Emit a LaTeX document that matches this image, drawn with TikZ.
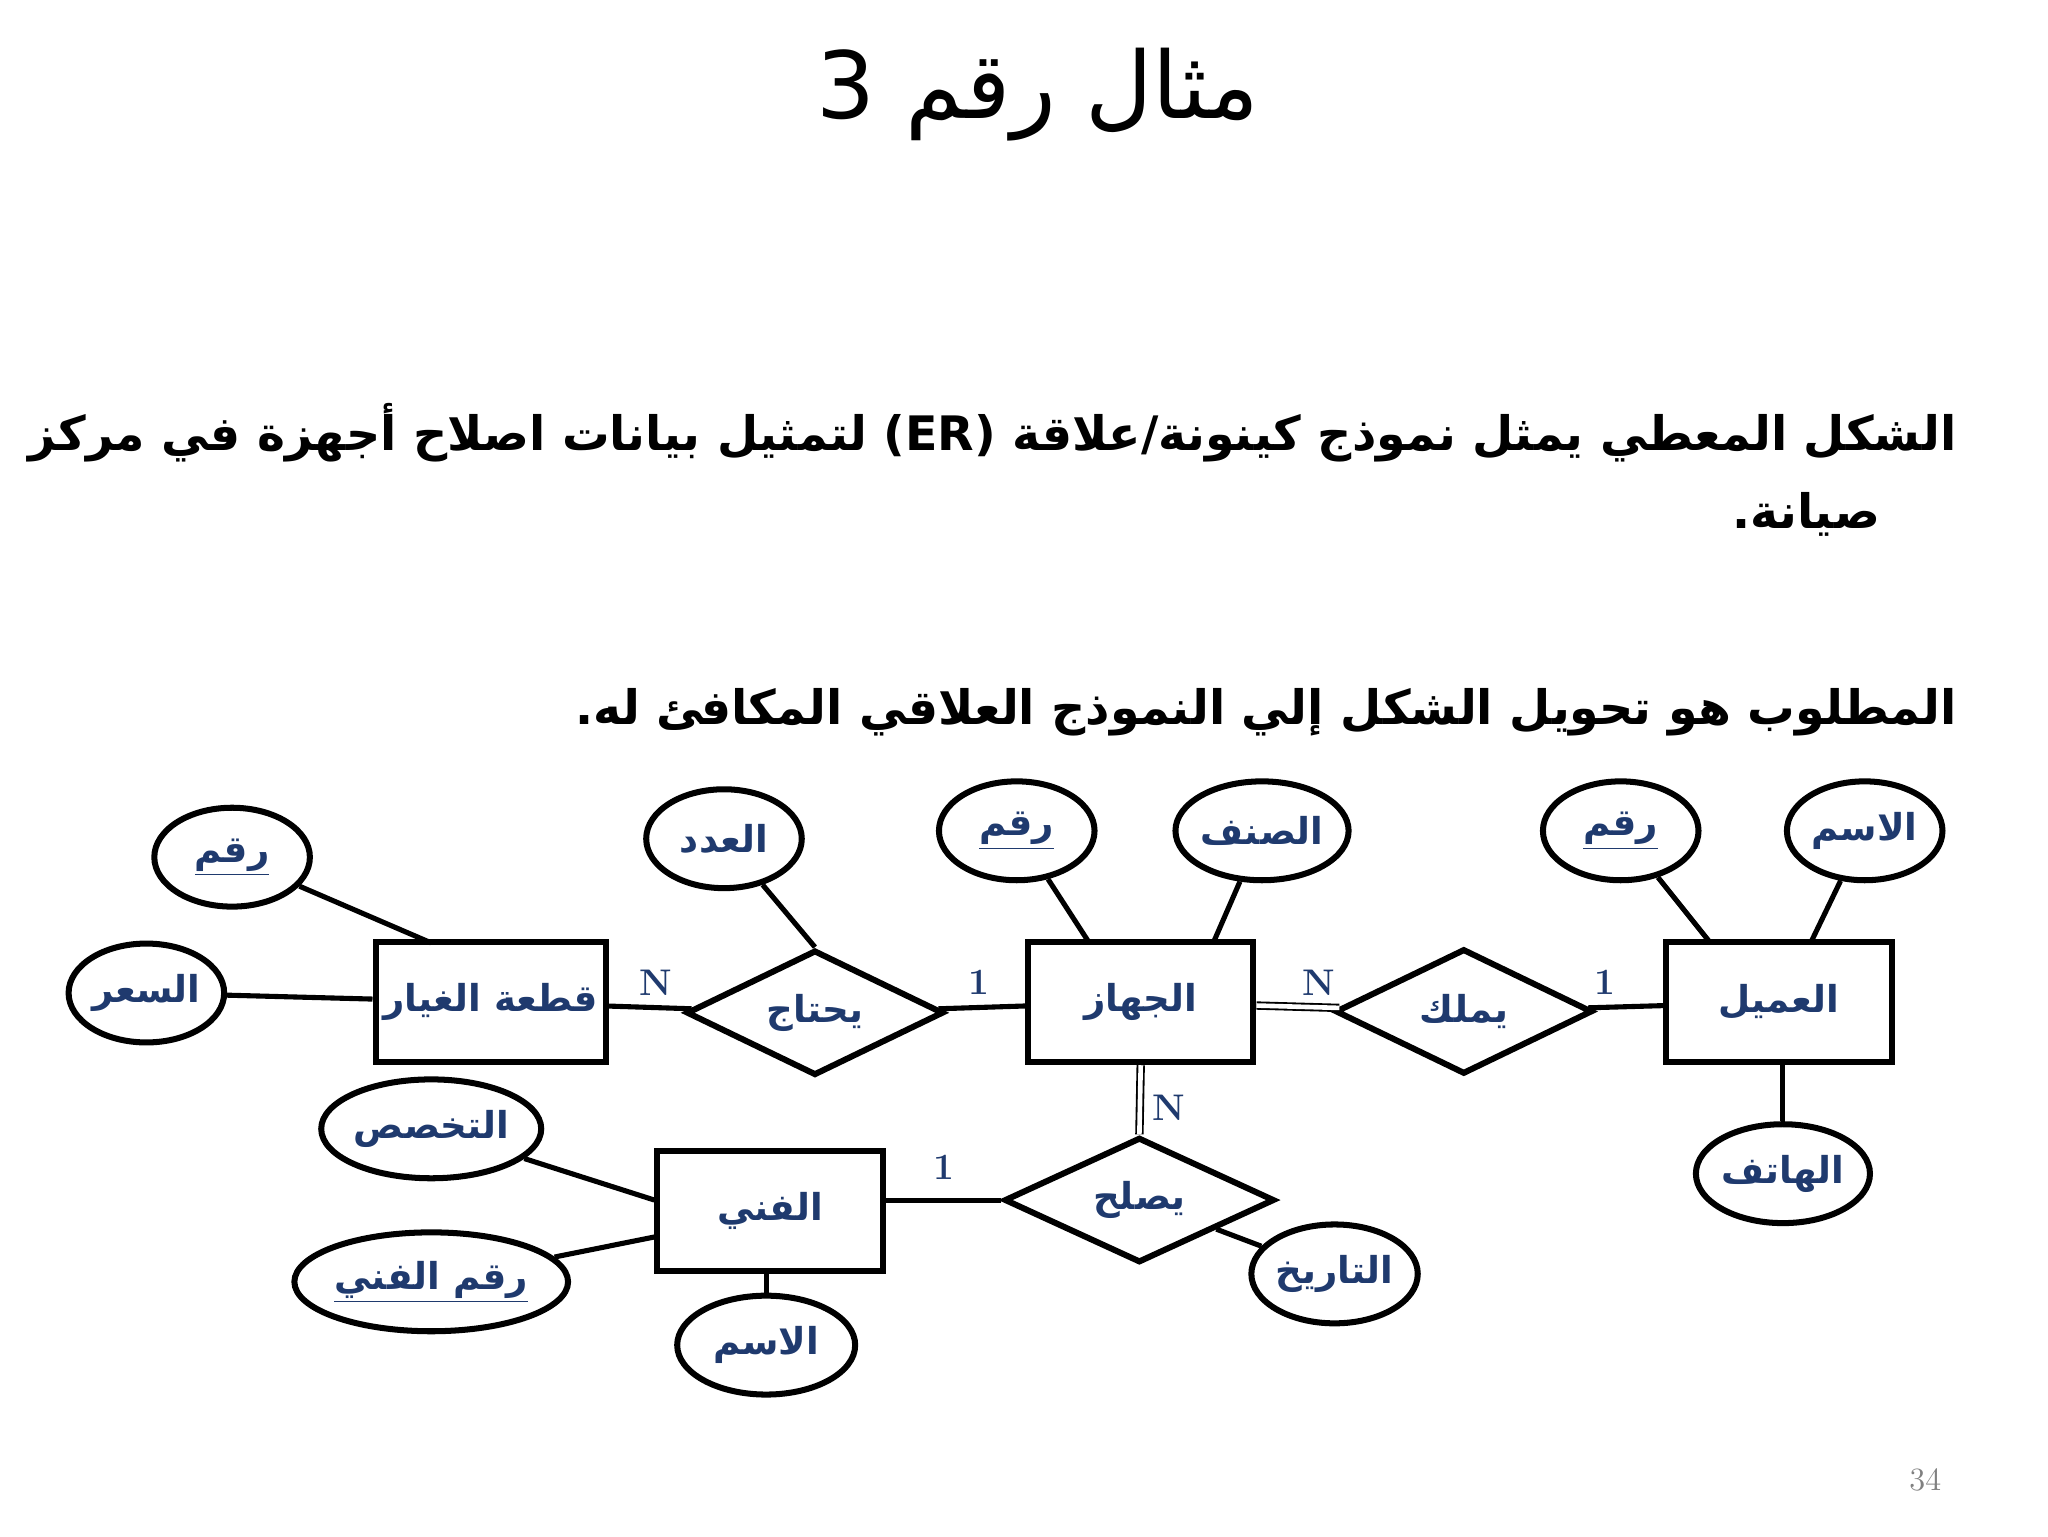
\documentclass[tikz,border=0pt]{standalone}
\usepackage{fontspec}
\usetikzlibrary{shapes.geometric}
\TeXXeTstate=1
\newfontfamily\arabicfont[Script=Arabic]{DejaVu Sans}
\newcommand{\ar}[1]{{\arabicfont\beginR #1\endR}}
\definecolor{navy}{HTML}{1F3A6E}
\tikzset{
  ent/.style={draw,line width=2.6pt,minimum width=3.42cm,minimum height=1.82cm,text=navy,font=\bfseries\fontsize{16}{20}\selectfont},
  rel/.style={draw,diamond,line width=2.6pt,aspect=2.05,minimum width=3.9cm,minimum height=1.9cm,inner sep=0pt,text=navy,font=\bfseries\fontsize{16}{20}\selectfont},
  att/.style={draw,ellipse,line width=2.6pt,minimum width=2.36cm,minimum height=1.5cm,inner sep=0pt,text=navy,font=\bfseries\fontsize{16}{20}\selectfont},
  ln/.style={line width=2.2pt},
  dbl/.style={double,double distance=2pt,line width=0.8pt},
  card/.style={text=navy,font=\rmfamily\bfseries\fontsize{16}{18}\selectfont}
}
\begin{document}
\begin{tikzpicture}[x=0.02cm,y=-0.02cm]
\useasboundingbox (0,0) rectangle (1553,1165);
\node at (787,72) {\fontsize{40}{46}\selectfont\ar{مثال رقم 3}};
\node[anchor=east] at (1490,328) {\fontsize{20.5}{26}\selectfont\bfseries\ar{الشكل المعطي يمثل نموذج كينونة/علاقة (\beginL ER\endL) لتمثيل بيانات اصلاح أجهزة في مركز}};
\node[anchor=east] at (1432,390) {\fontsize{20.5}{26}\selectfont\bfseries\ar{صيانة.}};
\node[anchor=east] at (1490,540) {\fontsize{20.5}{26}\selectfont\bfseries\ar{المطلوب هو تحويل الشكل إلي النموذج العلاقي المكافئ له.}};
\node[text=gray] at (1460,1122) {\fontsize{14}{16}\selectfont 34};

\node[ent] (qg) at (372,760) {\ar{قطعة الغيار}};
\node[ent] (jh) at (865,760) {\ar{الجهاز}};
\node[ent] (am) at (1349,760) {\ar{العميل}};
\node[ent] (fn) at (584,918) {\ar{الفني}};
\node[rel] (yh) at (618,768) {\ar{يحتاج}};
\node[rel] (ym) at (1110,767) {\ar{يملك}};
\node[rel,minimum width=4.1cm] (ys) at (864,910) {\ar{يصلح}};

\node[att] (a1) at (176,650) {\underline{\ar{رقم}}};
\node[att] (a2) at (111,753) {\ar{السعر}};
\node[att] (a3) at (549,636) {\ar{العدد}};
\node[att] (a4) at (771,630) {\underline{\ar{رقم}}};
\node[att] (a5) at (957,630) {\ar{الصنف}};
\node[att] (a6) at (1229,630) {\underline{\ar{رقم}}};
\node[att] (a7) at (1414,630) {\ar{الاسم}};
\node[att] (a8) at (1352,890) {\ar{الهاتف}};
\node[att,minimum width=2.7cm] (a9) at (327,856) {\ar{التخصص}};
\node[att,minimum width=2.7cm] (a10) at (327,972) {\underline{\ar{رقم الفني}}};
\node[att,minimum width=2.7cm] (a11) at (581,1020) {\ar{الاسم}};
\node[att] (a12) at (1012,966) {\ar{التاريخ}};

\draw[ln] (a1) -- (327,715);
\draw[ln] (a2) -- (qg);
\draw[ln] (a3) -- (yh.north);
\draw[ln] (a4) -- (826,715);
\draw[ln] (a5) -- (920,715);
\draw[ln] (a6) -- (1297,715);
\draw[ln] (a7) -- (1373,715);
\draw[ln] (a8) -- (am.south -| a8);
\draw[ln] (a9) -- (fn.west |- 0,910);
\draw[ln] (a10) -- (fn.west |- 0,938);
\draw[ln] (a11) -- (fn.south -| a11);
\draw[ln] (a12) -- (ys);
\draw[ln] (qg) -- (yh);
\draw[ln] (yh) -- (jh);
\draw[dbl] (jh) -- (ym);
\draw[ln] (ym) -- (am);
\draw[dbl] (jh.south) -- (ys.north);
\draw[ln] (ys) -- (fn.east |- ys);

\node[card] at (497,745) {N};
\node[card] at (742,745) {1};
\node[card] at (1000,745) {N};
\node[card] at (1217,745) {1};
\node[card] at (886,840) {N};
\node[card] at (716,885) {1};
\end{tikzpicture}
\end{document}
